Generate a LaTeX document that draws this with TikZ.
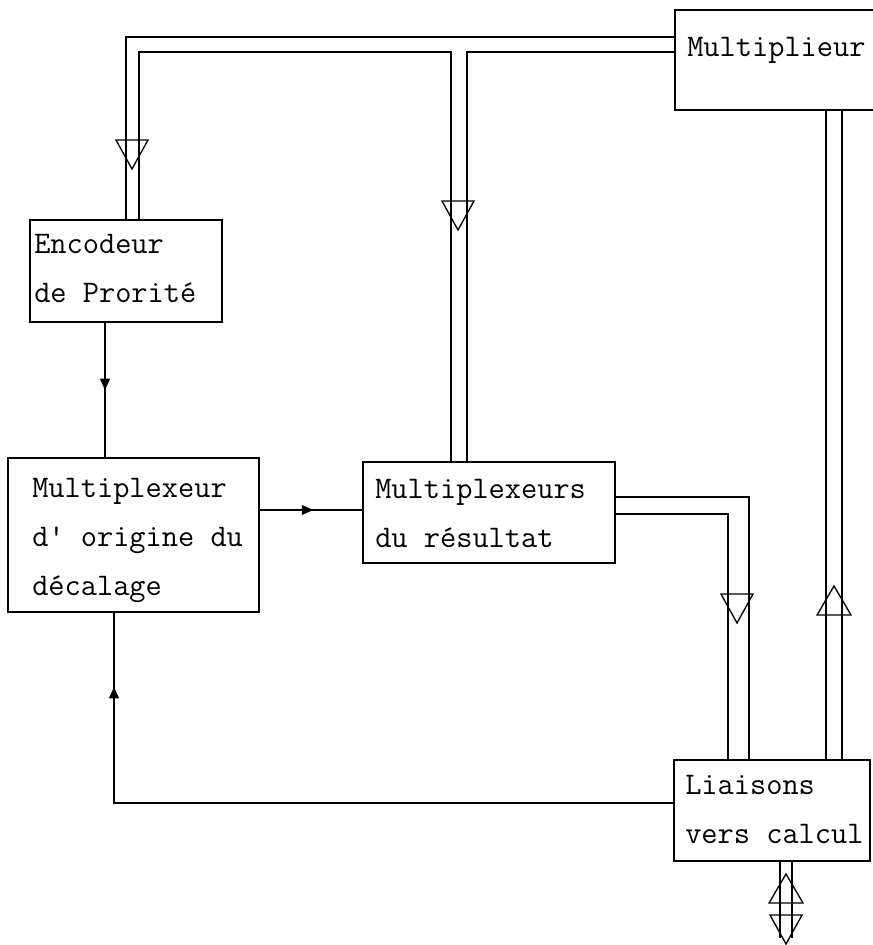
\documentclass[tikz,border=0pt]{standalone}
\usepackage{fontspec}
\usetikzlibrary{arrows.meta,decorations.markings}

\tikzset{
  block/.style={draw, line width=1.1pt, rectangle, inner sep=0pt, outer sep=0pt, anchor=north west},
  blocktext/.style={anchor=base west, inner sep=0pt, align=left,
    font=\ttfamily\fontsize{23.6pt}{36.4pt}\selectfont},
  wire/.style={line width=1pt},
  midarrow/.style={postaction={decorate}, decoration={markings,
    mark=at position #1 with {\arrow{Triangle[length=8.5pt,width=7.5pt]}}}},
  pics/busdown/.style={code={
    \draw[line width=1pt] (-16,0) -- (16,0) -- (0,29) -- cycle;}},
  pics/busup/.style={code={
    \draw[line width=1pt] (-17,0) -- (17,0) -- (0,-29) -- cycle;}},
}

\begin{document}
\begin{tikzpicture}[x=0.75pt, y=-0.75pt]
\useasboundingbox (0,0) rectangle (873,945);

% blocks
\node[block, minimum width=144pt,    minimum height=76.5pt]  (enc) at (30,220) {};
\node[block, minimum width=188.25pt, minimum height=115.5pt] (mux) at (8,458) {};
\node[block, minimum width=189pt,    minimum height=75.75pt] (res) at (363,462) {};
\node[block, minimum width=156pt,    minimum height=75pt]    (mul) at (675,10) {};
\node[block, minimum width=147pt,    minimum height=75.75pt] (lia) at (674,760) {};

% block texts
\node[blocktext] (enc-t) at (34,302)  {Encodeur\\de Prorité};
\node[blocktext] (mux-t) at (32,595)  {Multiplexeur\\d' origine du\\décalage};
\node[blocktext] (res-t) at (375,547) {Multiplexeurs\\du résultat};
\node[blocktext] (mul-t) at (687,57)  {Multiplieur};
\node[blocktext] (lia-t) at (685,843) {Liaisons\\vers calcul};

% bus bend points
\coordinate (ea) at (126,37);
\coordinate (eb) at (139,52);
\coordinate (ma) at (451,52);
\coordinate (mb) at (467,52);
\coordinate (ra) at (749,497);
\coordinate (rb) at (728,514);
\coordinate (pa) at (826,0);
\coordinate (pb) at (842,0);
\coordinate (la) at (780,0);
\coordinate (lb) at (792,0);
\coordinate (lend) at (0,938);
\coordinate (fb) at (114,803);

% Multiplieur -> Encodeur / Multiplexeurs du resultat
\draw[wire] (ea -| mul.west) -- (ea) -- (ea |- enc.north);
\draw[wire] (eb |- enc.north) -- (eb) -- (ma) -- (ma |- res.north);
\draw[wire] (mb -| mul.west) -- (mb) -- (mb |- res.north);
\pic at (132,140) {busdown};
\pic at (458,201) {busdown};

% Multiplexeurs du resultat -> Liaisons
\draw[wire] (ra -| res.east) -- (ra) -- (ra |- lia.north);
\draw[wire] (rb -| res.east) -- (rb) -- (rb |- lia.north);
\pic at (737,594) {busdown};

% Liaisons -> Multiplieur
\draw[wire] (pa |- mul.south) -- (pa |- lia.north);
\draw[wire] (pb |- mul.south) -- (pb |- lia.north);
\pic at (834,615) {busup};

% Liaisons external bus
\draw[wire] (la |- lia.south) -- (la |- lend);
\draw[wire] (lb |- lia.south) -- (lb |- lend);
\pic at (786,903) {busup};
\pic at (786,915) {busdown};

% single control lines
\draw[wire, midarrow=0.50] (enc.south -| 105,0) -- (mux.north -| 105,0);
\draw[wire, midarrow=0.52] (mux.east |- 0,510) -- (res.west |- 0,510);
\draw[wire, midarrow=0.90] (lia.west |- fb) -- (fb) -- (fb |- mux.south);
\end{tikzpicture}
\end{document}
